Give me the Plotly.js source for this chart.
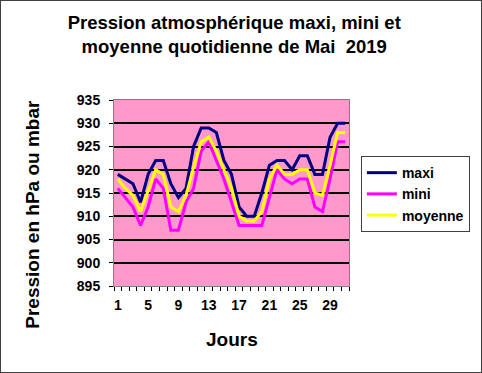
<!DOCTYPE html>
<html>
<head>
<meta charset="utf-8">
<script src="https://cdn.plot.ly/plotly-3.0.1.min.js"></script>
<style>
  html, body { margin: 0; padding: 0; background: #fff; }
  #wrap { position: relative; width: 482px; height: 373px; }
  #chart { width: 482px; height: 373px; }
  #frame { position: absolute; left: 0; top: 0; width: 482px; height: 373px; box-sizing: border-box; border: 1px solid #404040; pointer-events: none; }
</style>
</head>
<body>
<div id="wrap"><div id="chart"></div><div id="frame"></div></div>
<script>
const days = [1,2,3,4,5,6,7,8,9,10,11,12,13,14,15,16,17,18,19,20,21,22,23,24,25,26,27,28,29,30,31];
const maxi = [919,918,917,913,919,922,922,917,914,916,925,929,929,928,922,919,912,910,910,915,921,922,922,920,923,923,919,919,927,930,930];
const mini = [916,914,912,908,912,918,916,907,907,913,916,924,926,922,918,913,908,908,908,908,914,920,918,917,918,918,912,911,918,926,926];
const moyenne = [918,916,914.5,911,915.5,920,919,912,911,914.5,920.5,926,927,924,920,916,910,909,909,911,918,921,919,919,920,920,915,914.5,921,928,928];
const xTickLabels = ["1","5","9","13","17","21","25","29"];
const xTickVals = [1,5,9,13,17,21,25,29];

const F = "Liberation Sans, Arial, sans-serif";
const PL = 114, PR = 351, PT = 100, PB = 286;
const px2x = p => (p - PL) / (PR - PL);
const px2y = p => (PB - p) / (PB - PT);

const traces = [
  {x: days, y: maxi, name: "maxi", type: "scatter", mode: "lines", line: {color: "#000080", width: 3}, legendgroup: "a"},
  {x: days, y: mini, name: "mini", type: "scatter", mode: "lines", line: {color: "#FF00FF", width: 3}, legendgroup: "b"},
  {x: days, y: moyenne, name: "moyenne", type: "scatter", mode: "lines", line: {color: "#FFFF00", width: 3}, legendgroup: "c"}
];
const layout = {
  width: 482, height: 373,
  margin: {l: PL, r: 482 - PR, t: PT, b: 373 - PB},
  paper_bgcolor: "#FFFFFF",
  plot_bgcolor: "#FF99CC",
  font: {family: F, color: "#000", size: 14},
  title: {
    text: "<b>Pression atmosphérique maxi, mini et<br>moyenne quotidienne de Mai  2019</b>",
    font: {family: F, size: 18.5, color: "#000"},
    x: 0.486, xanchor: "center", y: 0.923, yanchor: "middle"
  },
  xaxis: {
    range: [0.5, 31.5],
    tickvals: xTickVals, ticktext: xTickLabels.map(t => "<b>" + t + "</b>"),
    ticks: "", showgrid: false, zeroline: false,
    showline: true, linecolor: "#808080", linewidth: 1, mirror: true,
    tickfont: {family: F, size: 14, color: "#000"},
    ticklabelstandoff: 6,
    minor: {tick0: 0.5, dtick: 1, ticks: "outside", ticklen: 4, tickcolor: "#000", showgrid: false}
  },
  yaxis: {
    range: [895, 935], dtick: 5, tick0: 895,
    ticks: "outside", ticklen: 4, tickcolor: "#000",
    showgrid: true, gridcolor: "#000000", gridwidth: 2, zeroline: false,
    showline: true, linecolor: "#808080", linewidth: 1, mirror: true,
    tickfont: {family: F, size: 14, color: "#000"},
    ticklabelstandoff: 6,
    tickprefix: "<b>", ticksuffix: "</b>"
  },
  annotations: [
    {text: "<b>Pression en hPa ou mbar</b>", xref: "paper", yref: "paper",
     x: px2x(31), y: px2y(214), xanchor: "center", yanchor: "middle", textangle: -90,
     showarrow: false, font: {family: F, size: 19, color: "#000"}},
    {text: "<b>Jours</b>", xref: "paper", yref: "paper",
     x: px2x(233), y: px2y(339), xanchor: "center", yanchor: "middle",
     showarrow: false, font: {family: F, size: 19, color: "#000"}}
  ],
  showlegend: true,
  legend: {
    x: 1.0506, xanchor: "left", y: 0.6985, yanchor: "top",
    bgcolor: "#FFFFFF", bordercolor: "#404040", borderwidth: 1,
    font: {family: F, size: 14, color: "#000"},
    traceorder: "grouped", tracegroupgap: 0, itemwidth: 30
  }
};
traces.forEach(t => t.name = "<b>" + t.name + "</b>");
Plotly.newPlot("chart", traces, layout, {displayModeBar: false, staticPlot: true});
</script>
</body>
</html>
